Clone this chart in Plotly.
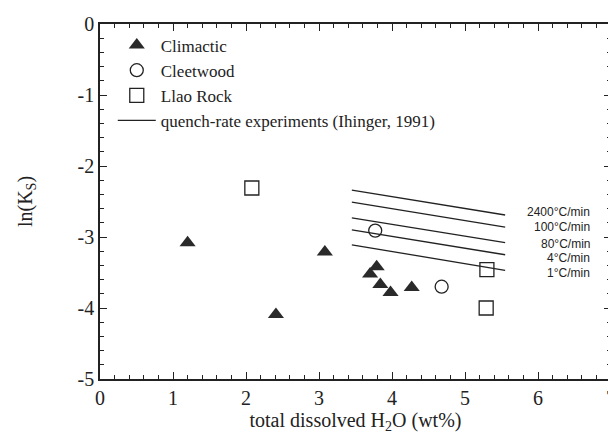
import plotly.graph_objects as go

# Data
climactic_x = [1.20, 3.08, 2.41, 3.79, 3.70, 3.84, 3.98, 4.27]
climactic_y = [-3.08, -3.21, -4.09, -3.42, -3.52, -3.67, -3.78, -3.71]

cleetwood_x = [3.77, 4.68]
cleetwood_y = [-2.91, -3.70]

llao_x = [2.08, 5.30, 5.29]
llao_y = [-2.31, -3.46, -4.00]

quench_labels = ["2400°C/min", "100°C/min", "80°C/min", "4°C/min", "1°C/min"]
quench_x0 = 3.45
quench_x1 = 5.55
quench_y0 = [-2.34, -2.51, -2.73, -2.90, -3.11]
quench_y1 = [-2.69, -2.86, -3.08, -3.25, -3.47]
label_y = [-2.65, -2.86, -3.10, -3.30, -3.50]

x_tickvals = [0, 1, 2, 3, 4, 5, 6, 7]
x_ticktext = ["0", "1", "2", "3", "4", "5", "6", "7"]
y_tickvals = [0, -1, -2, -3, -4, -5]
y_ticktext = ["0", "-1", "-2", "-3", "-4", "-5"]

SERIF = "Liberation Serif"
SANS = "Liberation Sans"
INK = "#222222"

fig = go.Figure()

fig.add_trace(go.Scatter(
    x=climactic_x, y=climactic_y, mode="markers", name="Climactic",
    marker=dict(symbol="triangle-up", size=14, color="#2a2a2a",
                line=dict(width=0))))
fig.add_trace(go.Scatter(
    x=cleetwood_x, y=cleetwood_y, mode="markers", name="Cleetwood",
    marker=dict(symbol="circle-open", size=13, color=INK,
                line=dict(width=1.3))))
fig.add_trace(go.Scatter(
    x=llao_x, y=llao_y, mode="markers", name="Llao Rock",
    marker=dict(symbol="square-open", size=14, color=INK,
                line=dict(width=1.3))))

qx, qy = [], []
for a, b in zip(quench_y0, quench_y1):
    qx += [quench_x0, quench_x1, None]
    qy += [a, b, None]
fig.add_trace(go.Scatter(
    x=qx, y=qy, mode="lines", name="quench-rate experiments (Ihinger, 1991)",
    line=dict(color=INK, width=1.3)))

for lab, ly in zip(quench_labels, label_y):
    fig.add_annotation(x=6.74, y=ly, text=lab, showarrow=False,
                       xanchor="right", yanchor="middle",
                       font=dict(family=SANS, size=12, color=INK))

def axis(tickvals, ticktext, rng, title, standoff):
    return dict(
        range=rng, tickmode="array", tickvals=tickvals, ticktext=ticktext,
        showline=True, linecolor=INK, linewidth=1.5, mirror="ticks",
        ticks="inside", ticklen=7, tickwidth=1.2, tickcolor=INK,
        showgrid=False, zeroline=False, automargin=False,
        ticklabeloverflow="allow",
        tickfont=dict(family=SERIF, size=20, color=INK),
        minor=dict(ticks="inside", ticklen=4, tickwidth=1, tickcolor=INK,
                   tickmode="linear", dtick=0.2, tick0=0),
        title=dict(text=title, font=dict(family=SERIF, size=20, color=INK),
                   standoff=standoff),
    )

# The page body has an 8px default margin, so the figure is sized to fit
# inside the 616x442 window and its margins are offset accordingly.
fig.update_layout(
    width=608, height=434,
    margin=dict(l=92, r=5, t=16, b=63),
    paper_bgcolor="white", plot_bgcolor="white",
    font=dict(family=SERIF, color=INK),
    xaxis=axis(x_tickvals, x_ticktext, [0, 7],
               "total dissolved H<sub>2</sub>O (wt%)", 3),
    yaxis=axis(y_tickvals, y_ticktext, [-5, 0], "ln(K<sub>S</sub>)", 40),
    legend=dict(x=0.025, y=0.99, xanchor="left", yanchor="top",
                bgcolor="rgba(0,0,0,0)", borderwidth=0,
                font=dict(family=SERIF, size=17, color=INK),
                tracegroupgap=0, itemwidth=38),
    showlegend=True,
)

fig.write_html("out.html")
